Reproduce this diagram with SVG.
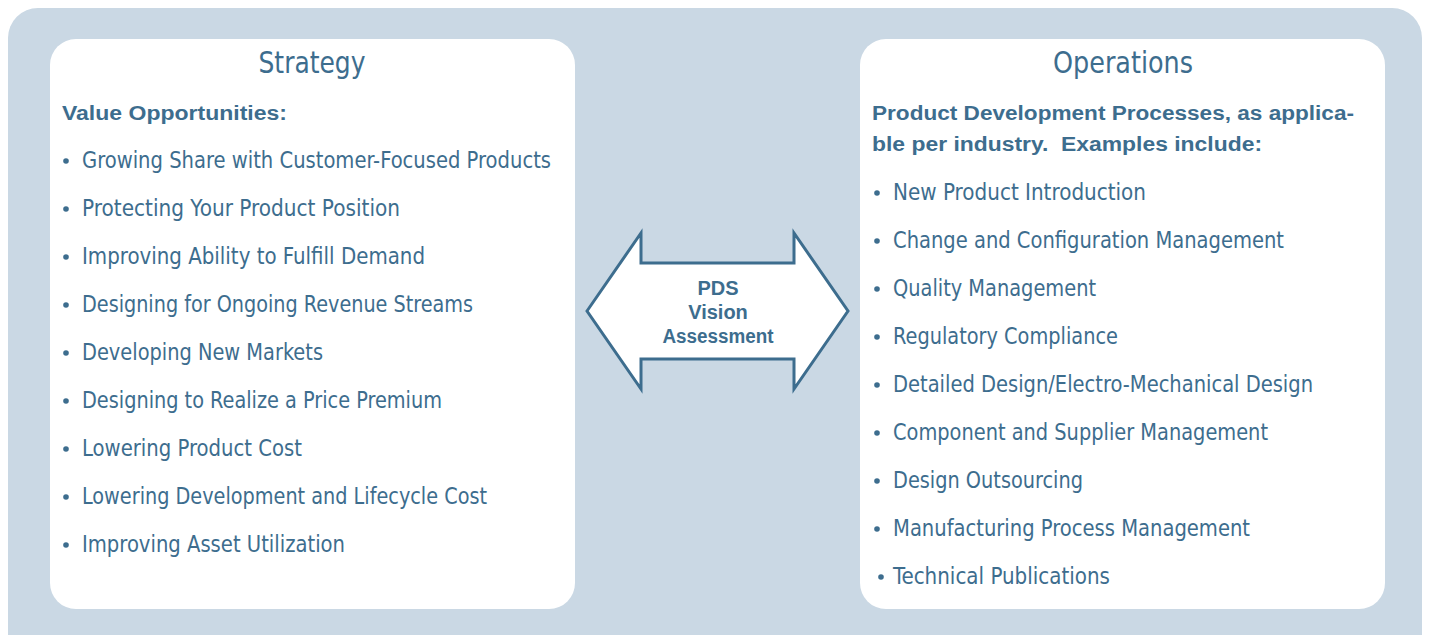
<svg xmlns="http://www.w3.org/2000/svg" width="1429" height="635" viewBox="0 0 1429 635">
<style>
.t{fill:#3d6d8e;font-family:"Liberation Sans Narrow","DejaVu Sans Condensed","Liberation Sans",sans-serif}
.title{font-size:31px;text-anchor:middle}
.item{font-size:23px}
.hdr{font-family:"Liberation Sans",Arial,sans-serif;font-weight:bold;font-size:19.5px;fill:#3d6d8e}
.bul{fill:#3d6d8e}
.box{fill:#ffffff}
.arrow{fill:#ffffff;stroke:#3d6d8e;stroke-width:3;stroke-linejoin:miter}
.at{font-family:"Liberation Sans",Arial,sans-serif;font-weight:bold;font-size:20px;fill:#3d6d8e;text-anchor:middle}
</style>
<rect x="8" y="8" width="1414" height="660" rx="30" ry="30" fill="#cad8e4"/>
<g id="strategy">
<rect class="box" x="50" y="39" width="525" height="570" rx="26" ry="26"/>
<text class="t title" x="312" y="73" textLength="107" lengthAdjust="spacingAndGlyphs">Strategy</text>
<text class="hdr" x="62" y="120" textLength="225" lengthAdjust="spacingAndGlyphs">Value Opportunities:</text>
<g class="bul">
<circle cx="66" cy="161" r="2.8"/><circle cx="66" cy="209" r="2.8"/><circle cx="66" cy="257" r="2.8"/><circle cx="66" cy="305" r="2.8"/><circle cx="66" cy="353" r="2.8"/><circle cx="66" cy="401" r="2.8"/><circle cx="66" cy="449" r="2.8"/><circle cx="66" cy="497" r="2.8"/><circle cx="66" cy="545" r="2.8"/>
</g>
<text class="t item" x="82" y="168" textLength="469" lengthAdjust="spacingAndGlyphs">Growing Share with Customer-Focused Products</text>
<text class="t item" x="82" y="216" textLength="318" lengthAdjust="spacingAndGlyphs">Protecting Your Product Position</text>
<text class="t item" x="82" y="264" textLength="343" lengthAdjust="spacingAndGlyphs">Improving Ability to Fulfill Demand</text>
<text class="t item" x="82" y="312" textLength="391" lengthAdjust="spacingAndGlyphs">Designing for Ongoing Revenue Streams</text>
<text class="t item" x="82" y="360" textLength="241" lengthAdjust="spacingAndGlyphs">Developing New Markets</text>
<text class="t item" x="82" y="408" textLength="360" lengthAdjust="spacingAndGlyphs">Designing to Realize a Price Premium</text>
<text class="t item" x="82" y="456" textLength="220" lengthAdjust="spacingAndGlyphs">Lowering Product Cost</text>
<text class="t item" x="82" y="504" textLength="405" lengthAdjust="spacingAndGlyphs">Lowering Development and Lifecycle Cost</text>
<text class="t item" x="82" y="552" textLength="263" lengthAdjust="spacingAndGlyphs">Improving Asset Utilization</text>
</g>
<g id="operations">
<rect class="box" x="860" y="39" width="525" height="570" rx="26" ry="26"/>
<text class="t title" x="1123" y="73" textLength="140" lengthAdjust="spacingAndGlyphs">Operations</text>
<text class="hdr" x="872" y="120" textLength="482" lengthAdjust="spacingAndGlyphs">Product Development Processes, as applica-</text>
<text class="hdr" x="872" y="151" textLength="390" lengthAdjust="spacingAndGlyphs" xml:space="preserve">ble per industry.  Examples include:</text>
<g class="bul">
<circle cx="877" cy="193" r="2.8"/><circle cx="877" cy="241" r="2.8"/><circle cx="877" cy="289" r="2.8"/><circle cx="877" cy="337" r="2.8"/><circle cx="877" cy="385" r="2.8"/><circle cx="877" cy="433" r="2.8"/><circle cx="877" cy="481" r="2.8"/><circle cx="877" cy="529" r="2.8"/><circle cx="881" cy="577" r="2.8"/>
</g>
<text class="t item" x="893" y="200" textLength="253" lengthAdjust="spacingAndGlyphs">New Product Introduction</text>
<text class="t item" x="893" y="248" textLength="391" lengthAdjust="spacingAndGlyphs">Change and Configuration Management</text>
<text class="t item" x="893" y="296" textLength="203" lengthAdjust="spacingAndGlyphs">Quality Management</text>
<text class="t item" x="893" y="344" textLength="225" lengthAdjust="spacingAndGlyphs">Regulatory Compliance</text>
<text class="t item" x="893" y="392" textLength="420" lengthAdjust="spacingAndGlyphs">Detailed Design/Electro-Mechanical Design</text>
<text class="t item" x="893" y="440" textLength="375" lengthAdjust="spacingAndGlyphs">Component and Supplier Management</text>
<text class="t item" x="893" y="488" textLength="190" lengthAdjust="spacingAndGlyphs">Design Outsourcing</text>
<text class="t item" x="893" y="536" textLength="357" lengthAdjust="spacingAndGlyphs">Manufacturing Process Management</text>
<text class="t item" x="893" y="584" textLength="217" lengthAdjust="spacingAndGlyphs">Technical Publications</text>
</g>
<g id="connectors">
<g id="pds-arrow">
<polygon class="arrow" points="587,311 641,233 641,263 794,263 794,233 848,311 794,389 794,359 641,359 641,389"/>
<text class="at" x="718" y="295">PDS</text>
<text class="at" x="718" y="319">Vision</text>
<text class="at" x="718" y="343" textLength="111" lengthAdjust="spacingAndGlyphs">Assessment</text>
</g>
</g>
</svg>
